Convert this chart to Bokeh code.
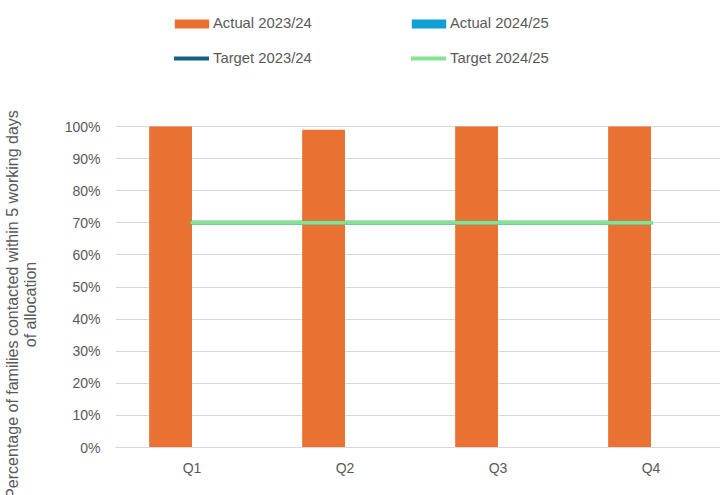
from bokeh.embed import file_html
from bokeh.models import (ColumnDataSource, FixedTicker, Legend, LegendItem,
                          LinearAxis, NumeralTickFormatter, Range1d, Title)
from bokeh.plotting import figure
from bokeh.resources import INLINE
from bokeh.transform import dodge

nan = float("nan")

# ---- data -------------------------------------------------------------
quarters = ["Q1", "Q2", "Q3", "Q4"]
actual_2023_24 = [1.00, 0.99, 1.00, 1.00]
actual_2024_25 = [nan, nan, nan, nan]    # no 2024/25 results recorded yet
target_2023_24 = [0.70, 0.70, 0.70, 0.70]
target_2024_25 = [0.70, 0.70, 0.70, 0.70]
pct_ticks = [0.0, 0.1, 0.2, 0.3, 0.4, 0.5, 0.6, 0.7, 0.8, 0.9, 1.0]

# ---- styling ----------------------------------------------------------
ORANGE = "#E97132"
BLUE = "#0F9ED5"
NAVY = "#156082"
GREEN = "#84E291"
TEXT = "#595959"
GRID = "#D9D9D9"
FONT = "Liberation Sans"

W, H = 720, 495
LEFT, BOTTOM = 115, 48
SLOT = 153                      # pixels per quarter
UNIT = 321                      # pixels per 100 %
BAR_W = 0.28                    # bar width in quarter units

pos = list(range(1, len(quarters) + 1))
frame_bottom = H - BOTTOM       # the frame runs up to the top edge; the
                                # space above 100 % holds the legend


def x_at(px):
    return 0.5 + (px - LEFT) / SLOT


def y_at(py):
    return (frame_bottom - py) / UNIT


p = figure(width=W, height=H,
           x_range=Range1d(0.5, x_at(W)), y_range=Range1d(0, y_at(0)),
           output_backend="svg", toolbar_location=None,
           min_border_left=LEFT, min_border_right=0,
           min_border_top=0, min_border_bottom=BOTTOM)
p.outline_line_color = None
p.background_fill_color = "white"
p.border_fill_color = "white"

# ---- marks ------------------------------------------------------------
src_a = ColumnDataSource(dict(x=pos, top=actual_2023_24))
src_b = ColumnDataSource(dict(x=pos, top=actual_2024_25))

r_a = p.vbar(x=dodge("x", -BAR_W / 2), top="top", width=BAR_W, source=src_a,
             fill_color=ORANGE, line_color=None)
r_b = p.vbar(x=dodge("x", BAR_W / 2), top="top", width=BAR_W, source=src_b,
             fill_color=BLUE, line_color=None)
r_t1 = p.line(pos, target_2023_24, line_color=NAVY, line_width=4, line_cap="round")
r_t2 = p.line(pos, target_2024_25, line_color=GREEN, line_width=4, line_cap="round")

# ---- axes & grid ------------------------------------------------------
p.xaxis.ticker = FixedTicker(ticks=pos)
p.xaxis.major_label_overrides = {x: q for x, q in zip(pos, quarters)}
p.xaxis.axis_line_color = GRID
p.xaxis.major_tick_line_color = None
p.xaxis.major_tick_in = 0
p.xaxis.major_tick_out = 0
p.xaxis.minor_tick_line_color = None
p.xaxis.major_label_standoff = 12
p.xaxis.major_label_text_font = FONT
p.xaxis.major_label_text_font_size = "14px"
p.xaxis.major_label_text_color = TEXT

p.yaxis.ticker = FixedTicker(ticks=pct_ticks)
p.yaxis.formatter = NumeralTickFormatter(format="0%")
p.yaxis.axis_line_color = None
p.yaxis.major_tick_line_color = None
p.yaxis.major_tick_in = 0
p.yaxis.major_tick_out = 0
p.yaxis.minor_tick_line_color = None
p.yaxis.major_label_standoff = 15
p.yaxis.major_label_text_font = FONT
p.yaxis.major_label_text_font_size = "14px"
p.yaxis.major_label_text_color = TEXT

p.xgrid.visible = False
p.ygrid.ticker = FixedTicker(ticks=pct_ticks)
p.ygrid.grid_line_color = GRID
p.ygrid.grid_line_width = 1

# blank strip between the tick labels and the caption
gap = LinearAxis(ticker=FixedTicker(ticks=[0.5]), major_label_overrides={0.5: ""},
                 axis_line_color=None, major_tick_line_color="white",
                 minor_tick_line_color=None, major_tick_in=0, major_tick_out=20,
                 minor_tick_in=0, minor_tick_out=0, major_label_standoff=0)
p.add_layout(gap, "left")

# ---- y axis caption: two vertical lines centred on y = 304 px ----------
CAP_SIZE = 16
for text, em, standoff in [("of allocation", 5.336, 1),
                           ("Percentage of families contacted within 5 working days", 24.288, -3)]:
    start = 304 + em * CAP_SIZE / 2          # lower end of the rotated line
    p.add_layout(Title(text=text, align="left", vertical_align="top",
                       offset=frame_bottom - start, standoff=standoff,
                       text_font=FONT, text_font_size=f"{CAP_SIZE}px",
                       text_font_style="normal", text_color=TEXT), "left")

# ---- legend: two rows of two keys -------------------------------------
ITEM_H = 24


def add_key(label, renderer, left_px, row_mid, glyph_w, glyph_h, standoff):
    leg = Legend(items=[LegendItem(label=label, renderers=[renderer])],
                 location=(left_px - LEFT,
                           int(round(frame_bottom - (row_mid + ITEM_H / 2)))),
                 orientation="vertical", padding=0, margin=0, spacing=0,
                 glyph_width=glyph_w, glyph_height=glyph_h,
                 label_height=ITEM_H, label_standoff=standoff,
                 label_text_font=FONT, label_text_font_size="14.8px",
                 label_text_color=TEXT, border_line_color=None,
                 background_fill_alpha=0)
    p.add_layout(leg)


add_key("Actual 2023/24", r_a, 170, 22.5, 43, 11, 0)
add_key("Actual 2024/25", r_b, 407, 22.5, 43, 11, 0)
add_key("Target 2023/24", r_t1, 174, 58, 35, ITEM_H, 4)
add_key("Target 2024/25", r_t2, 411, 58, 35, ITEM_H, 4)

open("out.html", "w").write(file_html(p, INLINE))
